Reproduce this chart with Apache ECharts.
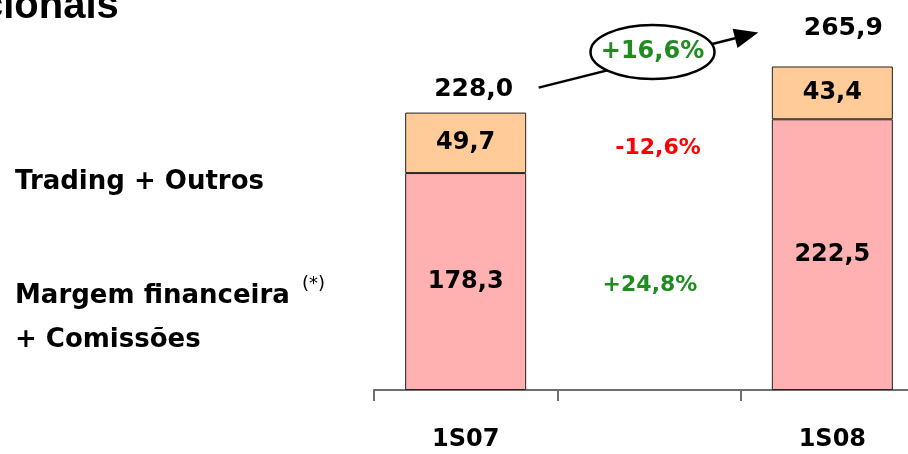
<!DOCTYPE html>
<html>
<head>
<meta charset="utf-8">
<script src="https://cdn.jsdelivr.net/npm/echarts@6/dist/echarts.min.js"></script>
<style>html,body{margin:0;padding:0;background:#fff}#c{width:908px;height:454px}</style>
</head>
<body>
<div id="c"></div>
<script>
var categories = ['1S07', '', '1S08'];
var margemComissoes = [178.3, null, 222.5];
var tradingOutros = [49.7, null, 43.4];
var totals = [228.0, null, 265.9];
var changeTrading = '-12,6%';
var changeMargem = '+24,8%';
var changeTotal = '+16,6%';
var seriesNames = ['Margem financeira + Comissões', 'Trading + Outros'];

var FONT = 'DejaVu Sans';
function fmt(v) { return v.toFixed(1).replace('.', ','); }

var chart = echarts.init(document.getElementById('c'));
var option = {
  animation: false,
  backgroundColor: '#ffffff',
  grid: { left: 374, top: 25, width: 550, height: 365, outerBoundsMode: 'none', containLabel: false },
  xAxis: {
    type: 'category',
    data: categories,
    axisLine: { lineStyle: { color: '#6e6e6e', width: 2 } },
    axisTick: { show: true, length: 11, lineStyle: { color: '#6e6e6e', width: 2 } },
    axisLabel: { color: '#000', fontFamily: FONT, fontWeight: 'bold', fontSize: 24, margin: 38 }
  },
  yAxis: { type: 'value', min: 0, max: 300, show: false, splitLine: { show: false } },
  series: [
    {
      name: seriesNames[0], type: 'bar', stack: 'a', barWidth: '66%',
      data: margemComissoes,
      itemStyle: { color: '#FFB0B0', borderColor: '#222', borderWidth: 1 },
      label: { show: true, position: 'inside', color: '#000', fontFamily: FONT, fontWeight: 'bold', fontSize: 24,
        formatter: function (p) { return fmt(p.value); } }
    },
    {
      name: seriesNames[1], type: 'bar', stack: 'a', barWidth: '66%',
      data: tradingOutros,
      itemStyle: { color: '#FFCC99', borderColor: '#222', borderWidth: 1 },
      label: { show: true, position: 'inside', color: '#000', fontFamily: FONT, fontWeight: 'bold', fontSize: 24,
        formatter: function (p) { return fmt(p.value); } }
    },
    {
      name: 'Total', type: 'scatter', symbolSize: 0,
      itemStyle: { opacity: 1 },
      data: totals.map(function (v, i) {
        if (v == null) return null;
        return { value: v, label: { offset: i === 0 ? [8, -6] : [11, -20] } };
      }),
      label: { show: true, position: 'top', color: '#000', fontFamily: FONT, fontWeight: 'bold', fontSize: 25,
        formatter: function (p) { return fmt(p.value); } },
      z: 5
    }
  ]
};
chart.setOption(option);

// annotations positioned from the axes
var pMid1 = chart.convertToPixel({ gridIndex: 0 }, [1, 199]);
var pMid2 = chart.convertToPixel({ gridIndex: 0 }, [1, 86]);
var pTop0 = chart.convertToPixel({ gridIndex: 0 }, [0, totals[0]]);
var pTop2 = chart.convertToPixel({ gridIndex: 0 }, [2, totals[2]]);
var x0 = pTop0[0] + 73, y0 = pTop0[1] - 25;
var x1 = pTop2[0] - 74, y1 = pTop2[1] - 34;
var dx = x1 - x0, dy = y1 - y0, len = Math.sqrt(dx * dx + dy * dy);
var ux = dx / len, uy = dy / len;
var ah = 24, aw = 10;
var bx = x1 - ux * ah, by = y1 - uy * ah;
var ecx = x0 + dx * 0.5 + 4, ecy = y0 + dy * 0.5 - 8;

chart.setOption({
  graphic: [
    { type: 'text', left: -19, top: -13, style: { text: 'cionais', font: 'bold 40px "Liberation Sans"', fill: '#000' } },
    { type: 'text', x: 15, y: 182, style: { text: seriesNames[1], font: 'bold 26px ' + FONT, fill: '#000', textVerticalAlign: 'middle' } },
    { type: 'text', x: 15, y: 296, style: { text: 'Margem financeira', font: 'bold 26px ' + FONT, fill: '#000', textVerticalAlign: 'middle' } },
    { type: 'text', x: 15, y: 340, style: { text: '+ Comissões', font: 'bold 26px ' + FONT, fill: '#000', textVerticalAlign: 'middle' } },
    { type: 'text', left: 302, top: 275, style: { text: '(*)', font: '18px ' + FONT, fill: '#000' } },
    { type: 'text', x: pMid1[0] + 9, y: pMid1[1], style: { text: changeTrading, font: 'bold 22px ' + FONT, fill: '#FF0000', textAlign: 'center', textVerticalAlign: 'middle' } },
    { type: 'text', x: pMid2[0] + 1, y: pMid2[1], style: { text: changeMargem, font: 'bold 22px ' + FONT, fill: '#1E8C1E', textAlign: 'center', textVerticalAlign: 'middle' } },
    { type: 'line', shape: { x1: x0, y1: y0, x2: bx, y2: by }, style: { stroke: '#000', lineWidth: 2.5 }, z: 10 },
    { type: 'polygon', shape: { points: [[x1, y1], [bx - uy * aw, by + ux * aw], [bx + uy * aw, by - ux * aw]] }, style: { fill: '#000' }, z: 11 },
    { type: 'ellipse', shape: { cx: ecx, cy: ecy, rx: 62, ry: 27 }, style: { fill: '#fff', stroke: '#000', lineWidth: 2.5 }, z: 12 },
    { type: 'text', x: ecx, y: ecy, style: { text: changeTotal, font: 'bold 24px ' + FONT, fill: '#1E8C1E', textAlign: 'center', textVerticalAlign: 'middle' }, z: 13 }
  ]
});
</script>
</body>
</html>
